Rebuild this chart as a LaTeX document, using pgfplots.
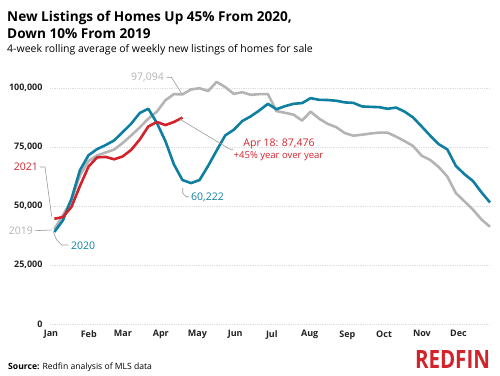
\documentclass[border=0pt]{standalone}
\usepackage{fontspec}
\setmainfont{Open Sans}
\usepackage{graphicx}
\usepackage{pgfplots}
\pgfplotsset{compat=1.18}
\definecolor{cblue}{HTML}{0E7FA0}
\definecolor{cred}{HTML}{D2232A}
\definecolor{cgray}{HTML}{B4B4B4}
\definecolor{lead}{HTML}{9A9A9A}
\definecolor{gridc}{HTML}{DCDCDC}
\definecolor{ticktext}{HTML}{222222}

\pgfplotstableread{
k v
0 40200
1 46000
2 52500
3 63000
4 69100
5 71400
6 72700
7 73900
8 76700
9 79900
10 83300
11 87000
12 90000
13 94800
14 97400
15 97300
16 99400
17 99900
18 98700
19 102600
20 100400
21 97500
22 98200
23 97100
24 97400
25 97400
26 90200
27 89500
28 88700
29 86200
30 90000
31 87000
32 84800
33 83400
34 80900
35 79800
36 80200
37 80700
38 81100
39 81100
40 79400
41 77500
42 75400
43 71300
44 69500
45 66500
46 62500
47 55500
48 52000
49 48500
50 44300
51 41200
}\yrnineteen

\pgfplotstableread{
k v
0 39000
1 43900
2 53000
3 65200
4 71500
5 74100
6 75800
7 77800
8 81300
9 84900
10 89400
11 91200
12 85200
13 77500
14 67600
15 61000
16 59700
17 61000
18 67000
19 73500
20 79900
21 82300
22 86000
23 88000
24 90500
25 93300
26 91000
27 92300
28 93300
29 93600
30 95700
31 95000
32 94900
33 94600
34 93900
35 93700
36 92200
37 92000
38 91900
39 91200
40 91700
41 90000
42 87500
43 83700
44 79800
45 76200
46 74000
47 67000
48 63500
49 60600
50 55800
51 51500
}\yrtwenty

\pgfplotstableread{
k v
0 44600
1 45300
2 49600
3 58500
4 66700
5 70600
6 70800
7 69800
8 71000
9 73800
10 78200
11 83700
12 85600
13 84300
14 85600
15 87476
}\yrtwentyone

\begin{document}
\begin{tikzpicture}
\begin{axis}[
  anchor=south west, at={(0pt,0pt)},
  scale only axis, width=440pt, height=247.8pt,
  xmin=-0.51, xmax=51, ymin=0, ymax=105000,
  axis line style={draw=none},
  major tick length=0pt,
  scaled y ticks=false, scaled x ticks=false,
  xtick={-0.4,4.03,8.03,12.46,16.74,21.17,25.46,29.89,34.31,38.6,43.03,47.31},
  xticklabels={Jan,Feb,Mar,Apr,May,Jun,Jul,Aug,Sep,Oct,Nov,Dec},
  ytick={0,25000,50000,75000,100000},
  yticklabels={0,{25,000},{50,000},{75,000},{100,000}},
  ymajorgrids,
  grid style={gridc, line width=0.6pt, dash pattern=on 1pt off 0.8pt},
  xticklabel style={font=\bfseries\fontsize{9}{10}\selectfont, text=ticktext},
  yticklabel style={font=\bfseries\fontsize{9}{10}\selectfont, text=ticktext},
  every x tick label/.append style={yshift=-3pt},
  every y tick label/.append style={xshift=-4pt},
  clip=false,
]
\addplot[cgray, line width=2.6pt, line join=round] table[x=k,y=v] {\yrnineteen};
\addplot[cblue, line width=2.6pt, line join=round] table[x=k,y=v] {\yrtwenty};
\addplot[cred, line width=2.6pt, line join=round] table[x=k,y=v] {\yrtwentyone};
\end{axis}

\begin{scope}[x=1pt,y=1pt,shift={(-50pt,-51pt)}]
% titles
\node[anchor=base west, inner sep=0] at (7,353) {\fontsize{13.6}{16}\selectfont\bfseries New Listings of Homes Up 45\% From 2020,};
\node[anchor=base west, inner sep=0] at (7,336) {\fontsize{13.6}{16}\selectfont\bfseries Down 10\% From 2019};
\node[anchor=base west, inner sep=0] at (7,322.7) {\fontsize{10.5}{12}\selectfont 4-week rolling average of weekly new listings of homes for sale};

% annotations
\node[anchor=east, inner sep=0, text=cgray] at (164,297.7) {\fontsize{10.5}{12}\selectfont 97,094};
\draw[lead, line width=0.6pt] (166.5,297.7)--(171.5,297.7)--(181.5,281.7);

\node[anchor=east, inner sep=0, text=cred] at (38,208) {\fontsize{10.5}{12}\selectfont 2021};
\draw[lead, line width=0.6pt] (40,208)--(45,208)--(51.7,158.3);

\node[anchor=east, inner sep=0, text=cgray] at (33,144.3) {\fontsize{10.5}{12}\selectfont 2019};
\draw[lead, line width=0.6pt] (35,144.3)--(51.5,145);

\node[anchor=west, inner sep=0, text=cblue] at (71,129.3) {\fontsize{10.5}{12}\selectfont 2020};
\draw[lead, line width=0.6pt] (53.3,142.7)--(56.7,135)--(61.7,130)--(68.3,130);

\node[anchor=west, inner sep=0, text=cblue] at (191,178) {\fontsize{10.5}{12}\selectfont 60,222};
\draw[lead, line width=0.6pt] (182.7,187)--(182.7,182)--(186,178.3)--(189,178.3);

\node[inner sep=0, text=cred] at (279,231) {\fontsize{10.5}{12}\selectfont Apr 18: 87,476};
\node[inner sep=0, text=cred] at (278.5,218.7) {\fontsize{9.5}{11}\selectfont +45\% year over year};
\draw[lead, line width=0.6pt] (180,255.7)--(230,225.7)--(233.3,225.7);

% source and logo
\node[anchor=base west, inner sep=0] at (8,6) {\fontsize{8.6}{10}\selectfont\textbf{Source:} Redfin analysis of MLS data};
\node[inner sep=0, text=cred] at (452.5,16) {\resizebox{75pt}{18pt}{\bfseries REDFIN}};

\pgfresetboundingbox
\path[use as bounding box] (0,0) rectangle (500,375);
\end{scope}
\end{tikzpicture}
\end{document}
